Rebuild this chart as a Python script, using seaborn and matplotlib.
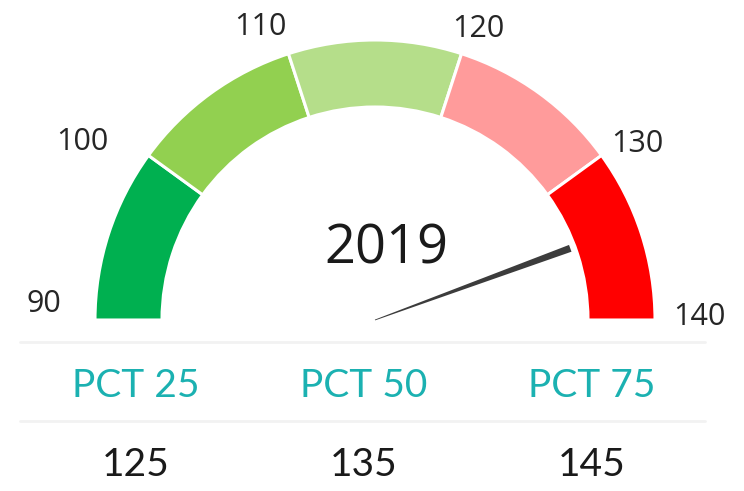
import numpy as np
import matplotlib
matplotlib.use("Agg")
import matplotlib.pyplot as plt
from matplotlib.patches import Wedge, Polygon
import seaborn as sns
import pandas as pd

# ---------------- data ----------------
band_edges = [90, 100, 110, 120, 130, 140]
band_colors = ["#00B050", "#92D050", "#B5DE8A", "#FF9B9B", "#FF0000"]
needle_value = 134.4
title_year = "2019"
pct_labels = ["PCT 25", "PCT 50", "PCT 75"]
pct_values = [125, 135, 145]

# ---------------- style / layout ----------------
W, H = 744, 491
CX, CY = 375, H - 320          # gauge center (y up)
R_OUT, R_IN = 280, 213
VMIN, VMAX = band_edges[0], band_edges[-1]

def ang(v):
    return 180.0 - (v - VMIN) / (VMAX - VMIN) * 180.0

# tick label baseline positions (pixel coords from top)
tick_pos = {90: (44, 312), 100: (82, 150), 110: (260, 35),
            120: (478, 37), 130: (637, 152), 140: (699, 325)}

sns.set_theme(style="white")
plt.rcParams["font.family"] = ["Open Sans", "DejaVu Sans"]

fig = plt.figure(figsize=(W / 100, H / 100), dpi=100)
ax = fig.add_axes([0, 0, 1, 1])
ax.set_xlim(0, W)
ax.set_ylim(0, H)
ax.axis("off")

# bands
for i in range(len(band_colors)):
    a1, a2 = ang(band_edges[i + 1]), ang(band_edges[i])
    ax.add_patch(Wedge((CX, CY), R_OUT, a1, a2, width=R_OUT - R_IN,
                       facecolor=band_colors[i], edgecolor="white", lw=2.2))

# tick labels
for v in band_edges:
    x, y = tick_pos[v]
    ax.text(x, H - y, str(v), ha="center", va="baseline", fontsize=22,
            color="#262626")

# needle
t = np.deg2rad(ang(needle_value))
L = 208
d = np.array([np.cos(t), np.sin(t)])
n = np.array([-d[1], d[0]])
base = np.array([CX, CY])
tip = base + L * d
pts = [base + 0.4 * n, tip + 3.6 * n, tip - 3.6 * n, base - 0.4 * n]
ax.add_patch(Polygon(pts, closed=True, facecolor="#3C3C3C", edgecolor="none"))

# year
ax.text(386, H - 264, title_year, ha="center", va="baseline", fontsize=39,
        color="#1A1A1A")

# table rules
rules = pd.DataFrame({"x": [20, 705, 20, 705], "y": [H - 342, H - 342, H - 421, H - 421],
                      "r": ["a", "a", "b", "b"]})
for _, g in rules.groupby("r"):
    sns.lineplot(data=g, x="x", y="y", ax=ax, color="#F2F2F2", lw=2, legend=False)

col_x = [136, 364, 592]
for cx, lab, val in zip(col_x, pct_labels, pct_values):
    ax.text(cx, H - 397, lab, ha="center", va="baseline", fontsize=28,
            color="#1BB1B1", family=["Lato", "DejaVu Sans"])
    ax.text(cx, H - 476, str(val), ha="center", va="baseline", fontsize=28,
            color="#1A1A1A", family=["Lato", "DejaVu Sans"])

ax.set_xlim(0, W)
ax.set_ylim(0, H)
ax.axis("off")
fig.savefig("out.png", dpi=100, facecolor="white")
